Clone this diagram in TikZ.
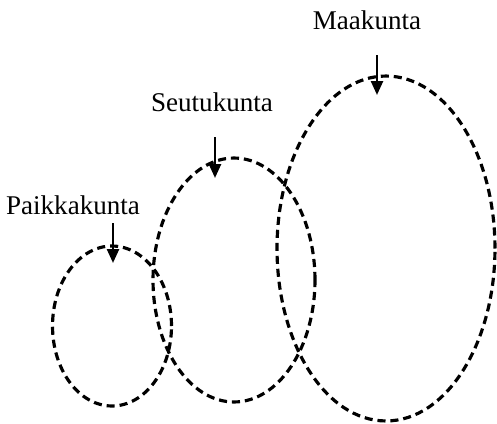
\documentclass[tikz,border=0pt]{standalone}
\usepackage{fontspec}
\setmainfont{Liberation Serif}
\usetikzlibrary{arrows.meta, shapes.geometric}

\begin{document}
\begin{tikzpicture}[x=0.02cm, y=-0.02cm]
\useasboundingbox (0,0) rectangle (497,423);

\begin{scope}[every node/.style={ellipse,draw=black,line width=1.8pt,
                                 dash pattern=on 4.6pt off 2.8pt,inner sep=0pt}]
    \node (paik) at (112,326) [minimum width=2.38cm, minimum height=3.2cm] {};
    \node (seutu) at (234,280) [minimum width=3.24cm, minimum height=4.88cm] {};
    \node (maa) at (386,248.5) [minimum width=4.36cm, minimum height=6.9cm] {};
\end{scope}

\begin{scope}[every node/.style={font=\fontsize{15.4}{18}\selectfont}]
    \node (paiklabel) at (73,205) {Paikkakunta};
    \node (seutulabel) at (212,102) {Seutukunta};
    \node (maalabel) at (367,20) {Maakunta};
\end{scope}

\coordinate (paikfrom) at (113,223);
\coordinate (paikto) at (113,263);
\coordinate (seutufrom) at (215,137);
\coordinate (seututo) at (215,178);
\coordinate (maafrom) at (377,55);
\coordinate (maato) at (377,95);

\begin{scope}[>={Stealth[length=0.28cm, width=0.24cm, inset=0pt]}, line width=1.4pt]
    \draw [->] (paikfrom) -- (paikto);
    \draw [->] (seutufrom) -- (seututo);
    \draw [->] (maafrom) -- (maato);
\end{scope}
\end{tikzpicture}
\end{document}
